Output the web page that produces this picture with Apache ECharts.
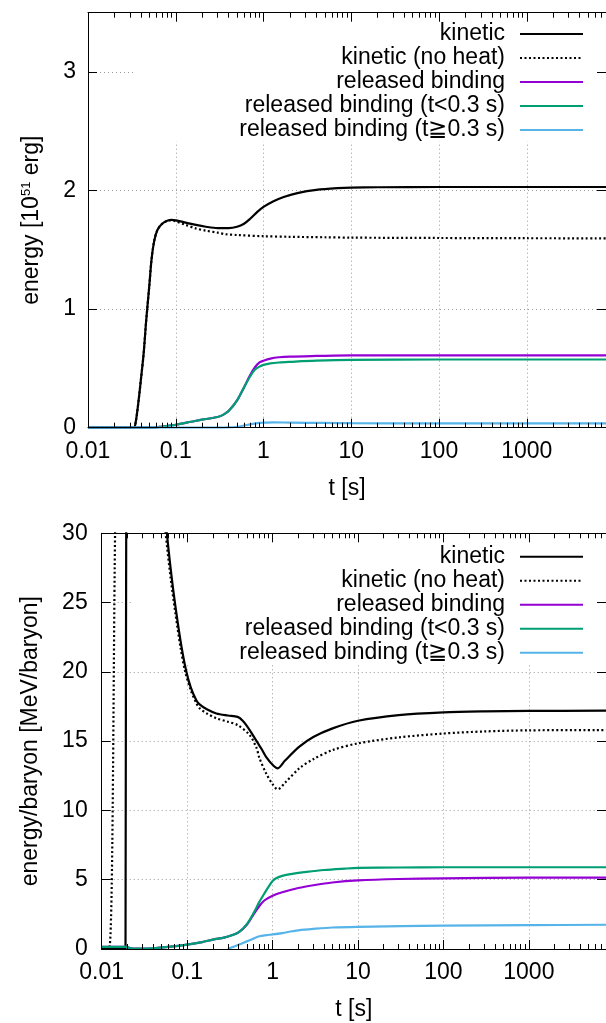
<!DOCTYPE html>
<html><head><meta charset="utf-8">
<script src="https://cdn.jsdelivr.net/npm/echarts@6/dist/echarts.min.js"></script>
<style>html,body{margin:0;padding:0;background:#fff}#c{width:606px;height:1023px}</style>
</head><body><div id="c"></div><script>
const FONT = '"Liberation Sans", Arial, Helvetica, sans-serif';
const FS = 23;

const xTickValues = [0.01, 0.1, 1, 10, 100, 1000];
const xTickLabels = ['0.01', '0.1', '1', '10', '100', '1000'];
const yTopTicks = [0, 1, 2, 3];
const yBotTicks = [0, 5, 10, 15, 20, 25, 30];
const seriesNames = ['kinetic', 'kinetic (no heat)', 'released binding', 'released binding (t<0.3 s)', 'released binding (t\u22670.3 s)'];
const seriesColors = ['#000000', '#000000', '#9400d3', '#009e73', '#56b4e9'];
const seriesDash = ['solid', [2, 2.5], 'solid', 'solid', 'solid'];

// ---- top panel: energy [1e51 erg] vs t [s]
const topKinetic = [[0.01,0],[0.033,0],[0.035,0.05],[0.038,0.25],[0.04,0.4],[0.043,0.62],[0.046,0.9],[0.05,1.2],[0.053,1.42],[0.057,1.58],[0.062,1.67],[0.07,1.72],[0.08,1.745],[0.09,1.752],[0.1,1.748],[0.13,1.73],[0.17,1.71],[0.22,1.695],[0.3,1.684],[0.4,1.684],[0.5,1.695],[0.6,1.72],[0.7,1.76],[0.85,1.82],[1,1.862],[1.3,1.91],[1.7,1.945],[2.5,1.98],[4,2.005],[7,2.02],[10,2.025],[20,2.028],[100,2.03],[1000,2.03],[8000,2.03]];
const topNoHeat = [[0.01,0],[0.033,0],[0.035,0.05],[0.038,0.25],[0.04,0.4],[0.043,0.62],[0.046,0.9],[0.05,1.2],[0.053,1.42],[0.057,1.58],[0.062,1.67],[0.07,1.72],[0.08,1.745],[0.09,1.75],[0.1,1.74],[0.13,1.71],[0.17,1.68],[0.22,1.662],[0.3,1.645],[0.37,1.632],[0.5,1.625],[1,1.615],[2,1.61],[5,1.606],[10,1.603],[100,1.6],[1000,1.598],[8000,1.597]];
const topReleased = [[0.01,0],[0.05,0],[0.07,0.01],[0.1,0.025],[0.15,0.05],[0.2,0.068],[0.3,0.09],[0.35,0.11],[0.4,0.14],[0.5,0.23],[0.6,0.34],[0.7,0.44],[0.8,0.51],[0.9,0.55],[1,0.565],[1.2,0.583],[1.5,0.594],[2,0.6],[4,0.605],[10,0.61],[100,0.61],[1000,0.61],[8000,0.61]];
const topReleasedEarly = [[0.01,0],[0.05,0],[0.07,0.01],[0.1,0.025],[0.15,0.05],[0.2,0.068],[0.3,0.09],[0.35,0.11],[0.4,0.14],[0.5,0.23],[0.6,0.34],[0.7,0.43],[0.8,0.49],[0.9,0.515],[1,0.53],[1.2,0.543],[1.5,0.55],[2,0.555],[4,0.565],[10,0.572],[100,0.575],[1000,0.575],[8000,0.575]];
const topReleasedLate = [[0.01,0],[0.3,0],[0.4,0.002],[0.5,0.008],[0.6,0.018],[0.7,0.028],[0.85,0.038],[1,0.042],[1.3,0.045],[2,0.043],[5,0.04],[10,0.038],[100,0.037],[1000,0.037],[8000,0.037]];

// ---- bottom panel: energy/baryon [MeV/baryon] vs t [s]
const botKinetic = [[0.01,0],[0.019,0],[0.0195,40],[0.03,60],[0.045,40],[0.052,33.5],[0.058,30],[0.066,26.8],[0.075,24.2],[0.086,21.8],[0.098,20],[0.11,18.9],[0.128,17.95],[0.14,17.65],[0.17,17.3],[0.22,17.0],[0.3,16.85],[0.39,16.75],[0.45,16.45],[0.54,15.8],[0.65,15.0],[0.75,14.4],[0.84,13.87],[1.0,13.3],[1.15,13.04],[1.4,13.6],[2.06,14.6],[3,15.3],[5.05,15.92],[10,16.47],[30,16.88],[100,17.08],[300,17.15],[1000,17.18],[8000,17.2]];
const botNoHeat = [[0.01,0],[0.0122,0],[0.0145,32],[0.02,80],[0.045,38],[0.05,33],[0.056,30],[0.064,26.8],[0.073,24.2],[0.084,21.7],[0.095,20],[0.11,18.7],[0.128,17.75],[0.14,17.37],[0.17,17.0],[0.22,16.65],[0.3,16.4],[0.39,16.16],[0.54,15.44],[0.65,14.5],[0.7,13.8],[0.84,12.68],[1.0,11.9],[1.15,11.52],[1.4,12.0],[2.06,13.04],[3,13.7],[5.05,14.36],[10,14.84],[30,15.27],[100,15.55],[300,15.7],[1000,15.78],[8000,15.8]];
const botReleased = [[0.01,0.15],[0.019,0.15],[0.022,0.05],[0.03,0.02],[0.04,0.05],[0.06,0.15],[0.1,0.32],[0.15,0.5],[0.2,0.68],[0.27,0.82],[0.32,0.95],[0.4,1.2],[0.5,1.75],[0.6,2.5],[0.7,3.1],[0.8,3.5],[1.0,3.85],[1.3,4.1],[2,4.4],[3,4.6],[5,4.8],[10,4.95],[30,5.05],[100,5.1],[1000,5.15],[8000,5.15]];
const botReleasedEarly = [[0.01,0.15],[0.019,0.15],[0.022,0.05],[0.03,0.02],[0.04,0.05],[0.06,0.15],[0.1,0.32],[0.15,0.5],[0.2,0.68],[0.27,0.82],[0.32,0.95],[0.4,1.2],[0.5,1.8],[0.6,2.6],[0.7,3.4],[0.8,4.0],[0.9,4.5],[1.0,4.9],[1.1,5.1],[1.3,5.28],[1.7,5.42],[2.5,5.56],[4,5.7],[7,5.8],[10,5.85],[30,5.88],[100,5.9],[1000,5.9],[8000,5.9]];
const botReleasedLate = [[0.3,0],[0.4,0.3],[0.5,0.55],[0.6,0.75],[0.7,0.92],[0.85,1.0],[1,1.05],[1.3,1.15],[1.7,1.28],[2,1.35],[3,1.45],[5,1.55],[10,1.6],[100,1.68],[1000,1.72],[8000,1.75]];

const topData = [topKinetic, topNoHeat, topReleased, topReleasedEarly, topReleasedLate];
const botData = [botKinetic, botNoHeat, botReleased, botReleasedEarly, botReleasedLate];

const X_MIN = 0.01, X_MAX = 8000;
const minorTicks = [];
for (let d = -2; d <= 3; d++) for (let k = 2; k <= 9; k++) { const v = k * Math.pow(10, d); if (v <= X_MAX) minorTicks.push(+v.toPrecision(6)); }

const txt = { fontFamily: FONT, fontSize: FS, color: '#000' };
function xLabelFmt(v) {
  const i = xTickValues.findIndex(t => Math.abs(Math.log10(t) - Math.log10(v)) < 1e-6);
  return i >= 0 ? xTickLabels[i] : '';
}
function xAxes(gi) {
  const base = { gridIndex: gi, type: 'log', logBase: 10, min: X_MIN, max: X_MAX, splitLine: { show: false } };
  return [
    Object.assign({}, base, { position: 'bottom', z: 3,
      axisLine: { show: true, onZero: false, lineStyle: { color: '#000', width: 1 } },
      axisTick: { show: true, inside: true, length: 9, customValues: xTickValues, lineStyle: { color: '#000' } },
      axisLabel: Object.assign({ show: true, customValues: xTickValues, formatter: xLabelFmt, margin: 12 }, txt),
      name: 't [s]', nameLocation: 'middle', nameGap: 49, nameTextStyle: txt }),
    Object.assign({}, base, { position: 'top', z: 3,
      axisLine: { show: true, onZero: false, lineStyle: { color: '#000', width: 1 } },
      axisTick: { show: true, inside: true, length: 9, customValues: xTickValues, lineStyle: { color: '#000' } },
      axisLabel: { show: false } }),
    Object.assign({}, base, { position: 'bottom', z: 3,
      axisLine: { show: false, onZero: false },
      axisTick: { show: true, inside: true, length: 5, customValues: minorTicks, lineStyle: { color: '#000' } },
      axisLabel: { show: false } }),
    Object.assign({}, base, { position: 'top', z: 3,
      axisLine: { show: false, onZero: false },
      axisTick: { show: true, inside: true, length: 5, customValues: minorTicks, lineStyle: { color: '#000' } },
      axisLabel: { show: false } }),
    Object.assign({}, base, { position: 'bottom', z: 0,
      axisLine: { show: false, onZero: false }, axisTick: { show: false }, axisLabel: { show: false },
      splitLine: { show: true, lineStyle: { color: '#9a9a9a', width: 1, type: [1, 3] } } })
  ];
}
function yAxes(gi, max, interval, ticks, name, nameGap, margin) {
  const base = { gridIndex: gi, type: 'value', min: 0, max: max, interval: interval, splitLine: { show: false } };
  return [
    Object.assign({}, base, { position: 'left', z: 3,
      axisLine: { show: true, onZero: false, lineStyle: { color: '#000', width: 1 } },
      axisTick: { show: true, inside: true, length: 9, customValues: ticks, lineStyle: { color: '#000' } },
      axisLabel: Object.assign({ show: true, customValues: ticks, margin: margin }, txt),
      name: name, nameLocation: 'middle', nameGap: nameGap, nameRotate: 90,
      nameTextStyle: Object.assign({}, txt, { rich: {
        a: { fontFamily: FONT, fontSize: FS, color: '#000' },
        s: { fontFamily: FONT, fontSize: 13, color: '#000', verticalAlign: 'top' } } }) }),
    Object.assign({}, base, { position: 'right', z: 3,
      axisLine: { show: true, onZero: false, lineStyle: { color: '#000', width: 1 } },
      axisTick: { show: true, inside: true, length: 9, customValues: ticks, lineStyle: { color: '#000' } },
      axisLabel: { show: false } }),
    Object.assign({}, base, { position: 'left', z: 0,
      axisLine: { show: false, onZero: false }, axisTick: { show: false }, axisLabel: { show: false },
      splitLine: { show: true, lineStyle: { color: '#9a9a9a', width: 1, type: [1, 3] } } })
  ];
}

const series = [];
[topData, botData].forEach((set, gi) => {
  set.forEach((d, i) => {
    series.push({
      name: seriesNames[i], type: 'line', xAxisIndex: gi * 5, yAxisIndex: gi * 3,
      data: d, showSymbol: false, symbol: 'none', smooth: 0.3, clip: true, z: 2,
      lineStyle: { color: seriesColors[i], width: 2.2, type: seriesDash[i] },
      itemStyle: { color: seriesColors[i] }, animation: false
    });
  });
});

function legend(top) {
  return { orient: 'vertical', align: 'right', right: 22, top: top, padding: 0, itemGap: 0,
    itemWidth: 63, itemHeight: 10, selectedMode: false, data: seriesNames,
    itemStyle: { opacity: 0, borderWidth: 0 },
    lineStyle: { width: 2 },
    textStyle: { fontFamily: FONT, fontSize: FS, color: '#000', lineHeight: 24, padding: [0, 10, 0, 0] } };
}

const chart = echarts.init(document.getElementById('c'), null, { renderer: 'canvas' });
chart.setOption({
  animation: false,
  backgroundColor: '#fff',
  grid: [
    { left: 88, top: 12.7, width: 521.2, height: 415 },
    { left: 101.7, top: 533.3, width: 506.2, height: 415.7 }
  ],
  xAxis: xAxes(0).concat(xAxes(1)),
  yAxis: yAxes(0, 3.5, 1, yTopTicks, '{a|energy [10}{s|51}{a| erg]}', 45, 12)
    .concat(yAxes(1, 30, 5, yBotTicks, 'energy/baryon [MeV/baryon]', 60, 14)),
  legend: [legend(22), legend(544.7)],
  graphic: [
    { type: 'rect', z: 1, shape: { x: 133, y: 13.5, width: 480, height: 128.2 }, style: { fill: '#fff' } },
    { type: 'rect', z: 1, shape: { x: 133, y: 534, width: 480, height: 129.3 }, style: { fill: '#fff' } }
  ],
  series: series
});
</script></body></html>
